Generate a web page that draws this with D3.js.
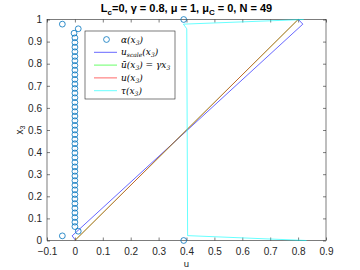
<!DOCTYPE html>
<html lang="en">
<head>
    <meta charset="UTF-8">
    <title>u vs x3</title>
    <script src="https://d3js.org/d3.v7.min.js"></script>
    <style>
        body { margin: 0; background: #fff; }
        svg { font-family: "Liberation Sans", Arial, sans-serif; }
        .tick text { font-size: 10px; fill: #262626; }
        .leg { font-family: "DejaVu Serif", "Liberation Serif", serif; font-style: italic; font-size: 9px; fill: #000; }
    </style>
</head>
<body>
    <svg width="360" height="270"></svg>
    <script>
        // x3 grid (N = 49)
        const x3 = [0, 0.021, 0.042, 0.063, 0.083, 0.104, 0.125, 0.146, 0.167, 0.188,
                    0.208, 0.229, 0.25, 0.271, 0.292, 0.313, 0.333, 0.354, 0.375, 0.396,
                    0.417, 0.438, 0.458, 0.479, 0.5, 0.521, 0.542, 0.563, 0.583, 0.604,
                    0.625, 0.646, 0.667, 0.688, 0.708, 0.729, 0.75, 0.771, 0.792, 0.813,
                    0.833, 0.854, 0.875, 0.896, 0.917, 0.938, 0.958, 0.979, 1];
        // alpha(x3) markers
        const alpha = [0.39, -0.045, 0.012, 0, 0, 0, 0, 0, 0, 0,
                       0, 0, 0, 0, 0, 0, 0, 0, 0, 0,
                       0, 0, 0, 0, 0, 0, 0, 0, 0, 0,
                       0, 0, 0, 0, 0, 0, 0, 0, 0, 0,
                       0, 0, 0, 0, 0, -0.003, 0.012, -0.045, 0.39];
        // line vertices [u, x3]
        const uScale = [[0.003, 0], [-0.01, 0.021], [0.817, 0.979], [0.801, 1]];
        const uBar = [[0, 0], [0.8, 1]];
        const uExact = [[0, 0], [0.8, 1]];
        const tau = [[0.83, 0], [0.404, 0.022], [0.401, 0.958], [0.389, 0.979], [0.82, 1]];

        const xTicks = [-0.1, 0, 0.1, 0.2, 0.3, 0.4, 0.5, 0.6, 0.7, 0.8, 0.9];
        const yTicks = [0, 0.1, 0.2, 0.3, 0.4, 0.5, 0.6, 0.7, 0.8, 0.9, 1];

        const margin = { top: 19.5, right: 34, bottom: 29.5, left: 47 },
              width = 360 - margin.left - margin.right,
              height = 270 - margin.top - margin.bottom;

        const svg = d3.select("svg");
        const g = svg.append("g")
            .attr("transform", "translate(" + margin.left + "," + margin.top + ")");

        const x = d3.scaleLinear().domain([-0.1, 0.9]).range([0, width]);
        const y = d3.scaleLinear().domain([0, 1]).range([height, 0]);

        function styleAxis(sel) {
            sel.select(".domain").remove();
            sel.selectAll(".tick line").attr("stroke", "#262626").attr("stroke-width", 0.6);
        }

        g.append("g").attr("transform", "translate(0," + height + ")")
            .call(d3.axisBottom(x).tickValues(xTicks).tickSize(-3).tickPadding(7).tickFormat(d3.format("")))
            .call(styleAxis);
        g.append("g")
            .call(d3.axisTop(x).tickValues(xTicks).tickSize(-3).tickFormat(""))
            .call(styleAxis);
        g.append("g")
            .call(d3.axisLeft(y).tickValues(yTicks).tickSize(-3).tickPadding(5).tickFormat(d3.format("")))
            .call(styleAxis);
        g.append("g").attr("transform", "translate(" + width + ",0)")
            .call(d3.axisRight(y).tickValues(yTicks).tickSize(-3).tickFormat(""))
            .call(styleAxis);
        g.selectAll(".tick text").attr("font-family", null).attr("font-size", null);

        g.append("rect")
            .attr("width", width).attr("height", height)
            .attr("fill", "none").attr("stroke", "#262626").attr("stroke-width", 0.6);

        const line = d3.line().x(d => x(d[0])).y(d => y(d[1]));

        const series = [
            { data: uScale, color: "#0000ff" },
            { data: uBar, color: "#00ff00" },
            { data: uExact, color: "#ff0000" },
            { data: tau, color: "#00ffff" }
        ];
        g.selectAll(".ln").data(series).enter().append("path")
            .attr("class", "ln")
            .attr("d", d => line(d.data))
            .attr("fill", "none")
            .attr("stroke", d => d.color)
            .attr("stroke-width", 0.6);

        g.selectAll(".pt").data(x3).enter().append("circle")
            .attr("class", "pt")
            .attr("cx", (d, i) => x(alpha[i]))
            .attr("cy", d => y(d))
            .attr("r", 2.9)
            .attr("fill", "none")
            .attr("stroke", "#0072bd")
            .attr("stroke-width", 0.8);

        // legend
        const leg = g.append("g").attr("transform", "translate(" + (85 - margin.left) + "," + (31 - margin.top) + ")");
        leg.append("rect").attr("width", 90).attr("height", 68)
            .attr("fill", "#fff").attr("stroke", "#262626").attr("stroke-width", 0.6);
        const rows = [
            { kind: "o", color: "#0072bd", parts: [["α(", ""], ["x", ""], ["3", "sub"], [")", ""]] },
            { kind: "l", color: "#0000ff", parts: [["u", ""], ["scale", "sub"], ["(x", ""], ["3", "sub"], [")", ""]] },
            { kind: "l", color: "#00ff00", parts: [["ū(x", ""], ["3", "sub"], [") = γx", ""], ["3", "sub"]] },
            { kind: "l", color: "#ff0000", parts: [["u(x", ""], ["3", "sub"], [")", ""]] },
            { kind: "l", color: "#00ffff", parts: [["τ(x", ""], ["3", "sub"], [")", ""]] }
        ];
        rows.forEach(function(r, i) {
            const yy = 8.5 + i * 12.8;
            if (r.kind === "o") {
                leg.append("circle").attr("cx", 21.5).attr("cy", yy).attr("r", 2.9)
                    .attr("fill", "none").attr("stroke", r.color).attr("stroke-width", 0.8);
            } else {
                leg.append("line").attr("x1", 9).attr("x2", 32).attr("y1", yy).attr("y2", yy)
                    .attr("stroke", r.color).attr("stroke-width", 0.6);
            }
            const t = leg.append("text").attr("class", "leg").attr("x", 36).attr("y", yy + 3);
            r.parts.forEach(function(p, k) {
                const prev = k > 0 ? r.parts[k - 1][1] : "";
                let dy = 0;
                if (p[1] === "sub" && prev !== "sub") dy = 2;
                if (p[1] !== "sub" && prev === "sub") dy = -2;
                const s = t.append("tspan").text(p[0]).attr("dy", dy);
                if (p[1] === "sub") s.attr("font-size", "6px");
            });
        });

        // title
        const title = svg.append("text")
            .attr("x", margin.left + width / 2).attr("y", 12)
            .attr("text-anchor", "middle")
            .attr("font-size", "11px").attr("font-weight", "bold").attr("fill", "#000");
        const tParts = [["L", 0], ["c", 1], ["=0, γ = 0.8, μ = 1, μ", -1], ["C", 1], [" = 0, N = 49", -1]];
        tParts.forEach(function(p) {
            const s = title.append("tspan").text(p[0]);
            if (p[1] === 1) s.attr("dy", 3).attr("font-size", "8px");
            else if (p[1] === -1) s.attr("dy", -3);
        });

        // axis labels
        svg.append("text").attr("x", margin.left + width / 2).attr("y", 266.5)
            .attr("text-anchor", "middle").attr("font-size", "9.5px").attr("fill", "#262626").text("u");
        const yl = svg.append("text")
            .attr("transform", "translate(23," + (margin.top + height / 2) + ") rotate(-90)")
            .attr("text-anchor", "middle").attr("font-size", "10px").attr("fill", "#262626");
        yl.append("tspan").text("x");
        yl.append("tspan").text("3").attr("font-size", "7px").attr("dy", 2);
    </script>
</body>
</html>
